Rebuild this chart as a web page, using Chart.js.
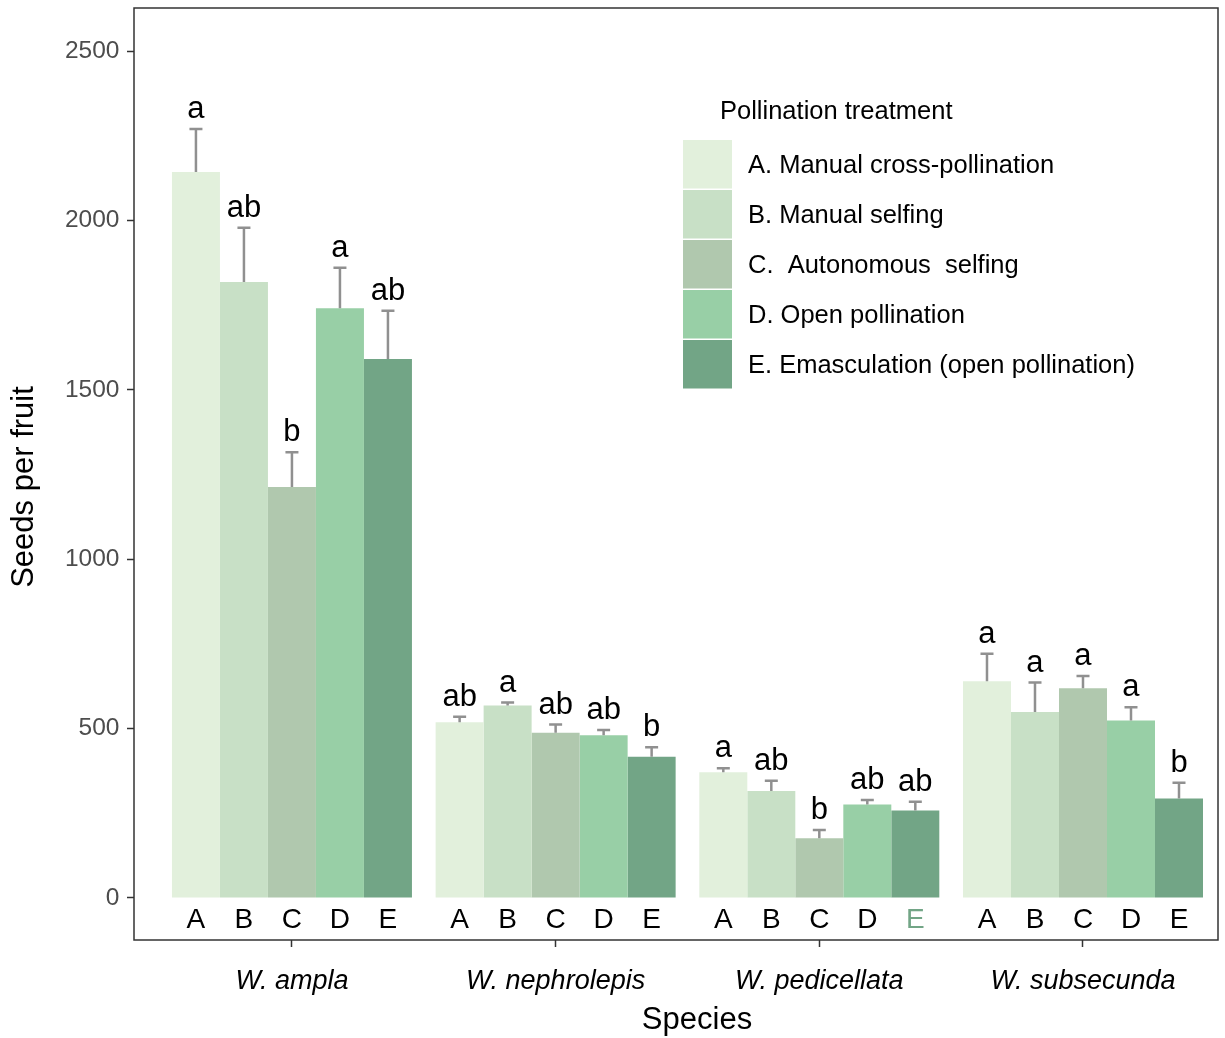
<!DOCTYPE html>
<html>
<head>
<meta charset="utf-8">
<title>Seeds per fruit by pollination treatment</title>
<script src="https://cdn.jsdelivr.net/npm/chart.js@4.4.1/dist/chart.umd.min.js"></script>
<style>
  html, body { margin: 0; padding: 0; background: #ffffff; }
  canvas { display: block; }
</style>
</head>
<body>
<canvas id="chart" width="1225" height="1038"></canvas>
<script>
// Species on the x axis
const species = ['W. ampla', 'W. nephrolepis', 'W. pedicellata', 'W. subsecunda'];

// Pollination treatments (one bar series each)
const treatments = [
  'A. Manual cross-pollination',
  'B. Manual selfing',
  'C.  Autonomous  selfing',
  'D. Open pollination',
  'E. Emasculation (open pollination)'
];
const treatmentCodes = ['A', 'B', 'C', 'D', 'E'];

// Mean seeds per fruit, per treatment, in species order
const meanA = [2143, 519, 371, 640];
const meanB = [1818, 568, 316, 549];
const meanC = [1213, 488, 176, 619];
const meanD = [1741, 480, 276, 524];
const meanE = [1591, 417, 258, 294];

// Standard error (drawn upward from the bar top)
const seA = [127, 16, 12, 81];
const seB = [160, 9, 30, 87];
const seC = [103, 24, 25, 36];
const seD = [119, 16, 13, 39];
const seE = [142, 28, 26, 46];

// Significance groups within each species
const sigA = ['a', 'ab', 'a', 'a'];
const sigB = ['ab', 'a', 'ab', 'a'];
const sigC = ['b', 'ab', 'b', 'a'];
const sigD = ['a', 'ab', 'ab', 'a'];
const sigE = ['ab', 'b', 'ab', 'b'];

// Y axis tick values
const yTicks = [0, 500, 1000, 1500, 2000, 2500];

const means = [meanA, meanB, meanC, meanD, meanE];
const errors = [seA, seB, seC, seD, seE];
const groups = [sigA, sigB, sigC, sigD, sigE];
const fills = ['#e2f0dc', '#c8e0c6', '#b0c8ae', '#98cfa6', '#72a586'];

const FONT = "'Liberation Sans', Arial, Helvetica, sans-serif";

const annotate = {
  id: 'annotate',
  afterDatasetsDraw(chart) {
    const { ctx, scales: { y } } = chart;
    const zero = y.getPixelForValue(0);
    ctx.save();
    chart.data.datasets.forEach((ds, t) => {
      const meta = chart.getDatasetMeta(t);
      meta.data.forEach((bar, s) => {
        const top = y.getPixelForValue(means[t][s] + errors[t][s]);
        // error bar with cap
        ctx.strokeStyle = '#909090';
        ctx.lineWidth = 2.5;
        ctx.beginPath();
        ctx.moveTo(bar.x, bar.y);
        ctx.lineTo(bar.x, top);
        ctx.moveTo(bar.x - 6.5, top);
        ctx.lineTo(bar.x + 6.5, top);
        ctx.stroke();
        // significance letter
        ctx.fillStyle = '#000000';
        ctx.font = `31px ${FONT}`;
        ctx.textAlign = 'center';
        ctx.textBaseline = 'alphabetic';
        ctx.fillText(groups[t][s], bar.x, top - 11);
        // treatment code under the bar
        ctx.font = `28px ${FONT}`;
        ctx.fillStyle = (s === 2 && t === 4) ? '#72a586' : '#000000';
        ctx.fillText(treatmentCodes[t], bar.x, zero + 30);
      });
    });
    ctx.restore();
  },
  afterDraw(chart) {
    const { ctx, chartArea: a } = chart;
    ctx.save();
    // panel border
    ctx.strokeStyle = '#333333';
    ctx.lineWidth = 1.5;
    ctx.strokeRect(a.left, a.top, a.right - a.left, a.bottom - a.top);

    // axis titles
    ctx.fillStyle = '#000000';
    ctx.font = `31px ${FONT}`;
    ctx.textAlign = 'center';
    ctx.textBaseline = 'middle';
    ctx.fillText('Species', 697, 1020);
    ctx.save();
    ctx.translate(24, 487);
    ctx.rotate(-Math.PI / 2);
    ctx.fillText('Seeds per fruit', 0, 0);
    ctx.restore();

    // legend
    ctx.textAlign = 'left';
    ctx.textBaseline = 'alphabetic';
    ctx.font = `25.5px ${FONT}`;
    ctx.fillText('Pollination treatment', 720, 119);
    chart.data.datasets.forEach((ds, i) => {
      ctx.fillStyle = ds.backgroundColor;
      ctx.fillRect(683, 140 + 50 * i, 49, 48.5);
      ctx.fillStyle = '#000000';
      ctx.fillText(ds.label, 748, 173 + 50 * i);
    });
    ctx.restore();
  }
};

const datasets = treatments.map((label, t) => ({
  label,
  data: means[t].map((v, s) => ({ x: s, y: v })),
  backgroundColor: fills[t],
  borderWidth: 0,
  categoryPercentage: 0.9102,
  barPercentage: 1.0
}));

new Chart(document.getElementById('chart'), {
  type: 'bar',
  data: { datasets },
  options: {
    responsive: false,
    devicePixelRatio: 1,
    animation: false,
    layout: { padding: { top: 8, right: 7, left: 0, bottom: 0 } },
    plugins: { legend: { display: false }, tooltip: { enabled: false } },
    scales: {
      x: {
        type: 'linear',
        min: -0.599,
        max: 3.512,
        offset: false,
        afterBuildTicks: (s) => { s.ticks = species.map((_, i) => ({ value: i })); },
        afterFit: (s) => { s.height = 98; s.paddingLeft = 0; s.paddingRight = 0; },
        border: { display: false },
        grid: { offset: false, drawOnChartArea: false, drawTicks: true, tickLength: 7, tickColor: '#333333', tickWidth: 1.5 },
        ticks: {
          autoSkip: false,
          maxRotation: 0,
          padding: 18,
          color: '#000000',
          font: { family: FONT, size: 27, style: 'italic' },
          callback: (v) => species[v]
        }
      },
      y: {
        min: -124,
        max: 2627,
        afterBuildTicks: (s) => { s.ticks = yTicks.map(v => ({ value: v })); },
        afterFit: (s) => { s.width = 134; s.paddingTop = 0; s.paddingBottom = 0; },
        border: { display: false },
        grid: { drawOnChartArea: false, drawTicks: true, tickLength: 7, tickColor: '#333333', tickWidth: 1.5 },
        ticks: {
          padding: 7.5,
          color: '#4d4d4d',
          font: { family: FONT, size: 24.5 },
          callback: (v) => String(v)
        }
      }
    }
  },
  plugins: [annotate]
});
</script>
</body>
</html>
